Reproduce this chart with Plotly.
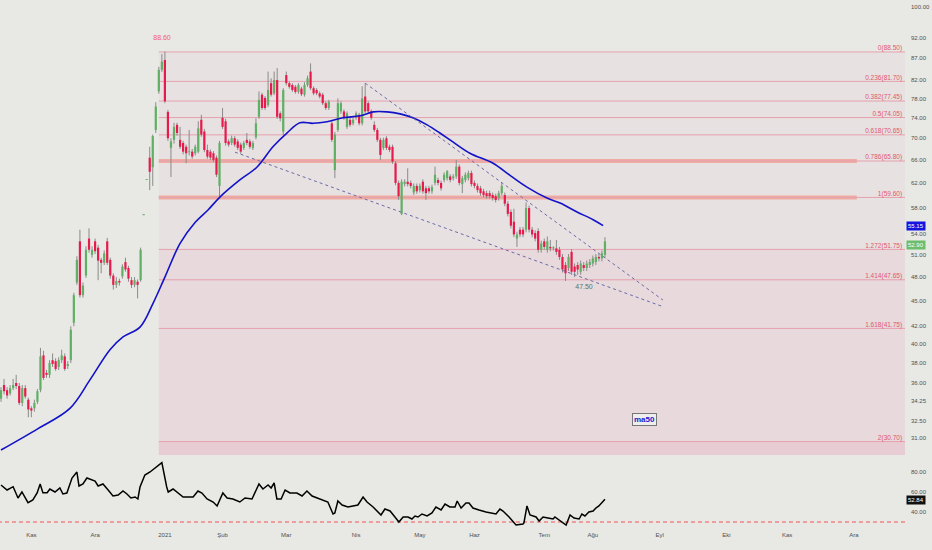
import plotly.graph_objects as go

# ---------------- data ----------------
month_ticks = [10, 31, 54, 73, 94, 117, 138, 156, 179, 195, 217, 239, 259, 281]
month_labels = ["Kas", "Ara", "2021", "Şub", "Mar", "Nis", "May", "Haz", "Tem", "Ağu", "Eyl", "Eki", "Kas", "Ara"]

price_ticks = [100, 92, 87, 82, 78, 74, 70, 66, 62, 58, 54, 51, 48, 45, 42, 40, 38, 36, 34.25, 32.5, 31]
rsi_ticks = [80, 60, 40]

opens = [
    34.5, 35.8, 35.3, 35.0, 35.5, 36.0, 35.7, 34.1, 35.5, 34.4,
    33.6, 33.6, 34.2, 35.3, 38.8, 37.0, 36.8, 38.3, 38.2, 37.6,
    38.3, 38.7, 37.7, 38.3, 42.4, 47.3, 52.9, 45.7, 48.2, 53.3,
    51.0, 52.9, 52.0, 50.3, 49.9, 52.9, 50.3, 48.2, 47.0, 47.5,
    48.1, 50.0, 49.2, 47.6, 47.0, 47.4, 47.6, 56.8, 62.5, 66.4,
    64.7, 71.6, 79.5, 84.3, 86.6, 75.2, 68.2, 69.7, 72.6, 69.7,
    69.1, 68.4, 67.4, 67.5, 67.2, 67.5, 73.6, 71.3, 67.8, 67.5,
    67.2, 66.4, 61.5, 74.0, 73.3, 69.4, 69.1, 70.0, 69.4, 68.8,
    68.2, 69.7, 69.4, 68.2, 70.2, 74.2, 78.8, 78.1, 76.6, 81.3,
    79.1, 82.0, 74.9, 71.3, 83.1, 81.3, 80.9, 80.5, 79.4, 80.1,
    78.8, 80.9, 83.9, 80.2, 79.8, 79.1, 78.8, 77.0, 76.0, 72.9,
    64.2, 71.6, 75.3, 75.3, 72.2, 73.6, 72.9, 74.0, 74.6, 72.9,
    78.4, 77.0, 75.3, 72.6, 71.6, 69.7, 68.2, 70.0, 68.4, 68.4,
    65.4, 62.0, 57.0, 61.8, 62.2, 62.0, 60.4, 61.5, 60.8, 62.2,
    61.1, 61.1, 60.6, 62.0, 62.5, 62.0, 62.5, 62.8, 63.1, 62.8,
    63.1, 64.8, 61.8, 62.5, 62.8, 63.7, 62.0, 61.5, 61.1, 60.6,
    60.3, 60.3, 60.0, 59.8, 59.5, 60.3, 60.0, 58.6, 57.3, 55.8,
    53.3, 54.6, 54.6, 54.6, 57.9, 54.6, 54.1, 54.4, 51.7, 52.9,
    51.7, 52.1, 51.9, 51.9, 51.7, 50.7, 49.6, 49.2, 51.4, 49.4,
    49.6, 48.7, 49.6, 49.2, 49.6, 49.8, 50.0, 50.7, 50.5, 51.0,
]
highs = [
    35.6, 36.4, 35.6, 35.8, 36.4, 36.8, 36.0, 35.8, 35.8, 34.6,
    33.8, 34.4, 35.4, 39.6, 39.3, 37.3, 38.3, 39.0, 38.5, 38.6,
    39.4, 39.0, 38.2, 42.0, 46.0, 50.8, 54.6, 47.3, 52.2, 54.8,
    52.2, 53.3, 52.4, 50.6, 51.6, 53.4, 50.6, 48.5, 48.0, 47.8,
    49.7, 50.6, 49.5, 48.0, 48.0, 47.7, 52.0, 56.9, 62.6, 68.4,
    70.7, 77.2, 85.0, 88.0, 88.6, 75.6, 70.0, 73.0, 73.0, 72.2,
    69.5, 68.8, 71.6, 68.0, 68.8, 73.3, 74.6, 71.8, 68.8, 67.9,
    67.6, 66.8, 69.5, 76.0, 73.8, 69.8, 70.5, 70.4, 69.8, 69.2,
    69.5, 71.0, 69.8, 69.5, 73.9, 79.5, 79.2, 78.5, 83.9, 82.4,
    83.9, 84.7, 75.3, 80.2, 83.9, 81.7, 81.3, 80.9, 81.3, 80.5,
    81.5, 83.0, 85.8, 80.6, 80.2, 79.5, 79.2, 77.4, 77.7, 73.5,
    71.2, 78.0, 77.4, 75.7, 75.3, 74.0, 74.0, 75.3, 75.0, 80.6,
    81.3, 77.4, 75.7, 73.3, 72.0, 70.1, 70.1, 70.4, 68.8, 68.8,
    65.8, 62.4, 62.6, 62.6, 64.5, 62.4, 61.9, 61.9, 61.9, 62.6,
    61.5, 61.5, 61.7, 64.8, 62.9, 62.4, 63.8, 64.2, 63.5, 63.5,
    66.0, 65.2, 63.2, 63.8, 64.1, 64.1, 62.4, 61.9, 61.5, 61.0,
    60.7, 60.7, 60.4, 60.2, 60.7, 62.0, 60.4, 59.0, 57.7, 57.8,
    54.3, 55.0, 55.0, 58.8, 58.3, 55.0, 54.5, 54.8, 53.0, 53.3,
    53.6, 53.1, 52.2, 53.1, 52.1, 51.1, 50.0, 51.1, 51.8, 49.8,
    50.0, 50.2, 50.0, 50.2, 50.4, 50.9, 51.1, 51.1, 51.6, 53.5,
]
lows = [
    34.2, 34.9, 34.5, 34.8, 35.3, 35.4, 33.9, 33.8, 34.5, 32.8,
    32.8, 33.3, 34.0, 35.1, 36.3, 36.5, 36.5, 37.6, 37.2, 37.3,
    38.0, 37.2, 37.4, 38.0, 42.0, 47.0, 45.4, 45.4, 47.9, 51.3,
    50.6, 51.1, 47.6, 48.5, 49.6, 49.6, 47.8, 46.4, 46.6, 46.9,
    47.8, 48.7, 47.4, 46.6, 46.7, 45.3, 47.4, 56.8, 62.5, 60.8,
    61.5, 71.0, 79.0, 83.8, 77.0, 69.5, 63.0, 69.0, 70.5, 68.0,
    67.0, 65.4, 66.8, 66.2, 66.8, 67.2, 70.3, 67.4, 66.2, 66.0,
    65.6, 63.0, 59.7, 71.8, 68.6, 68.4, 68.7, 68.4, 67.8, 67.1,
    67.8, 68.7, 68.0, 67.8, 69.8, 73.8, 75.6, 75.6, 76.2, 78.4,
    78.7, 73.8, 73.3, 70.6, 80.8, 80.1, 79.4, 79.0, 79.0, 78.5,
    78.4, 80.5, 79.8, 78.7, 78.7, 78.0, 76.6, 75.6, 75.6, 69.3,
    62.8, 71.2, 74.8, 73.6, 71.8, 72.2, 72.5, 73.6, 72.5, 72.5,
    74.9, 74.9, 73.6, 71.2, 69.3, 66.0, 67.8, 67.8, 67.4, 65.3,
    61.6, 59.2, 56.8, 61.4, 61.4, 61.1, 60.0, 60.2, 60.4, 60.2,
    59.2, 60.2, 60.2, 61.6, 61.6, 60.7, 62.1, 62.4, 62.1, 62.4,
    62.7, 61.6, 60.3, 62.1, 62.4, 61.4, 61.1, 60.4, 59.9, 59.6,
    59.4, 59.4, 59.1, 58.8, 59.1, 59.9, 58.2, 56.6, 54.8, 53.5,
    52.1, 53.5, 53.5, 54.2, 54.2, 53.5, 52.9, 51.3, 51.3, 51.7,
    51.3, 51.5, 51.6, 51.0, 50.3, 48.6, 47.5, 48.8, 48.3, 48.0,
    48.3, 48.3, 48.8, 48.8, 49.2, 49.4, 49.6, 50.1, 50.1, 50.6,
]
closes = [
    35.3, 35.2, 34.8, 35.5, 35.8, 35.7, 34.1, 35.5, 34.7, 33.5,
    33.4, 34.1, 35.2, 38.7, 36.5, 36.8, 38.0, 37.9, 37.4, 38.3,
    38.8, 37.4, 37.9, 41.6, 45.7, 50.3, 45.7, 46.9, 51.7, 51.7,
    51.7, 51.5, 50.2, 49.9, 51.2, 49.9, 48.2, 47.0, 47.5, 47.3,
    49.4, 49.0, 47.8, 47.0, 47.6, 47.0, 51.7, 56.9, 62.6, 63.9,
    70.4, 76.3, 84.3, 86.2, 77.4, 70.0, 69.4, 72.2, 71.0, 68.4,
    67.5, 67.2, 67.5, 66.6, 68.4, 71.9, 70.7, 67.8, 66.6, 66.4,
    66.0, 63.4, 69.1, 72.2, 69.1, 68.8, 70.0, 68.8, 68.2, 67.5,
    69.1, 69.1, 68.4, 69.1, 72.9, 77.7, 76.0, 76.0, 79.8, 78.8,
    82.0, 74.2, 73.9, 79.8, 81.3, 80.5, 79.8, 79.4, 80.9, 78.9,
    80.9, 82.4, 80.2, 79.1, 79.1, 78.4, 77.0, 76.0, 77.3, 69.7,
    70.7, 77.0, 77.0, 74.0, 74.9, 72.6, 73.6, 74.9, 72.9, 78.0,
    75.3, 75.3, 74.0, 71.6, 69.7, 66.9, 69.7, 68.2, 67.8, 65.7,
    62.0, 59.8, 62.2, 62.2, 61.8, 61.5, 61.5, 60.6, 61.5, 60.6,
    60.3, 60.6, 61.3, 63.4, 62.0, 61.1, 63.4, 64.0, 62.5, 63.1,
    64.8, 62.0, 62.8, 63.4, 63.7, 61.8, 61.5, 60.8, 60.3, 60.0,
    59.8, 59.8, 59.5, 59.2, 60.3, 61.5, 58.6, 57.0, 55.2, 53.9,
    53.9, 53.9, 53.9, 57.9, 54.6, 53.9, 53.3, 51.7, 52.6, 52.1,
    52.9, 51.9, 51.9, 51.4, 50.7, 49.0, 48.5, 50.7, 48.7, 48.7,
    49.0, 49.8, 49.2, 49.8, 50.0, 50.5, 50.7, 50.5, 51.2, 52.9,
]

ma_bar = [0, 12.2, 22.7, 29.3, 35.9, 40.2, 45.8, 50.1, 54, 59, 64, 68.2, 72.2, 78.7, 84.3, 89.6,
          94.2, 98.5, 102.8, 107.4, 112.7, 118.3, 122.6, 127.2, 131.5, 135.7, 140.4, 144.6, 148.9,
          154.5, 162.1, 167.7, 173.3, 179.9, 184.2, 189.8, 195.1, 198.4]
ma_val = [30.0, 31.8, 33.6, 36.3, 39.4, 40.8, 41.9, 44.7, 48.0, 52.6, 55.7, 57.6, 59.7, 62.5, 64.7, 68.4,
          71.0, 73.0, 72.9, 73.2, 74.0, 74.4, 75.2, 75.2, 74.8, 74.0, 72.6, 71.0, 69.3,
          67.2, 65.4, 63.3, 61.3, 59.5, 58.7, 57.3, 56.1, 55.2]

rsi_bar = [0, 2.0, 4.0, 5.6, 6.9, 8.9, 10.5, 11.9, 12.9, 13.8, 15.2, 16.1, 17.8, 19.4, 20.4, 21.7,
           23.4, 25.0, 25.7, 27.0, 28.3, 31.0, 32.0, 33.6, 35.3, 36.9, 38.6, 40.2, 41.5, 42.8,
           44.2, 45.1, 45.8, 47.4, 49.1, 51.4, 53.0, 54.6, 55.1, 56.7, 58.3, 60.0, 63.3, 64.9,
           66.2, 67.9, 69.9, 71.2, 73.1, 74.5, 76.4, 78.7, 80.4, 82.7, 85.0, 86.3, 88.0, 89.0,
           90.0, 90.9, 92.3, 93.6, 95.2, 97.5, 99.2, 100.8, 102.5, 105.1, 107.7, 109.4, 110.0,
           111.0, 112.4, 114.3, 116.0, 117.6, 119.3, 120.6, 122.6, 125.2, 126.5, 128.2, 129.8,
           131.1, 132.5, 134.1, 135.4, 136.4, 137.4, 138.7, 140.4, 142.0, 143.3, 145.0, 146.3,
           147.9, 149.6, 150.3, 151.6, 153.2, 154.2, 155.5, 157.5, 159.8, 163.1, 164.4, 165.4,
           167.4, 169.7, 172.0, 172.3, 173.3, 174.3, 176.3, 177.3, 178.6, 180.2, 181.9, 182.5,
           183.9, 185.2, 186.2, 187.5, 188.8, 190.5, 191.4, 192.4, 193.7, 195.1, 196.0, 197.0, 199.0]
rsi_val = [67, 62, 65.3, 54, 60, 49.3, 52, 59, 68, 59.3, 59.3, 63, 60, 64, 58, 59,
           74, 80, 66, 68, 74, 71, 66, 68, 62, 56, 57, 61, 58, 54,
           55, 53, 65, 77, 80, 86, 89.3, 65, 60, 63, 59, 55, 55, 61,
           59, 53, 50, 46, 59, 54, 53, 50, 54, 53, 68, 63, 67, 64,
           69, 53, 53, 62, 59, 59, 56, 61, 56, 53, 50, 38, 39,
           51, 47, 45, 46, 47, 55, 50, 45, 37, 43, 41, 35,
           30, 35, 35, 33, 36, 35, 38, 36, 39, 45, 42, 48,
           45, 45, 51, 44, 49, 49, 44, 42, 40, 38, 43, 41,
           35, 27, 28, 29, 46, 37, 35, 31, 35, 34, 33, 35,
           32, 30, 27, 37, 34, 33, 38, 36, 40, 41, 44, 46, 52.84]

fib_ratio = ["0", "0.236", "0.382", "0.5", "0.618", "0.786", "1", "1.272", "1.414", "1.618", "2"]
fib_price = [88.50, 81.70, 77.45, 74.05, 70.65, 65.80, 59.60, 51.75, 47.65, 41.75, 30.70]
band_price = [65.80, 59.60]

upper_trend_bar = [120, 218.1]
upper_trend_price = [81.3, 45.1]
lower_trend_bar = [77.1, 218.1]
lower_trend_price = [67.4, 44.3]

rsi_level = 30
ath_label = "88.60"
low_label = "47.50"
ma_last = 55.15
close_last = 52.90
rsi_last = 52.84

# ---------------- layout constants ----------------
BG = "#e8e8e4"
FONT = "Liberation Sans"
X_RANGE = [-0.33, 297.86]
Y_RANGE = [1.47129, 2.00826]
PRICE_DOM = [0.141509, 1.0]
RSI_DOM = [0.0, 0.135849]
FIB_X0 = 52.0
FIB_X1 = 300.0
BAND_X1 = 282.0
LABEL_X = 296.9
UP = "#5fb064"
DN = "#e8194b"

bars = list(range(len(opens)))
fig = go.Figure()

# fib shaded zones
zones = [(fib_price[0], fib_price[7], "#e7e1e1"),
         (fib_price[7], fib_price[10], "#e7d9dc"),
         (fib_price[10], 20.0, "#e8ccd3")]
for top, bot, col in zones:
    fig.add_trace(go.Scatter(x=[FIB_X0, FIB_X1, FIB_X1, FIB_X0, FIB_X0], y=[top, top, bot, bot, top],
                             fill="toself", fillcolor=col, mode="lines", line=dict(width=0),
                             hoverinfo="skip", xaxis="x", yaxis="y"))

# salmon horizontal bands
for p in band_price:
    fig.add_trace(go.Scatter(x=[FIB_X0, BAND_X1], y=[p, p], mode="lines",
                             line=dict(color="#efaca2", width=4), hoverinfo="skip", xaxis="x", yaxis="y"))

# fib lines
for p in fib_price:
    fig.add_trace(go.Scatter(x=[FIB_X0, FIB_X1], y=[p, p], mode="lines",
                             line=dict(color="#e6a0ae", width=1), hoverinfo="skip", xaxis="x", yaxis="y"))

fig.add_trace(go.Scatter(x=[LABEL_X] * len(fib_price), y=fib_price, mode="text",
                         text=[f"{r}({p:.2f})" for r, p in zip(fib_ratio, fib_price)],
                         textposition="top left", textfont=dict(family=FONT, size=6.5, color="#e2566f"),
                         hoverinfo="skip", xaxis="x", yaxis="y"))

# wicks
wx, wy = [], []
for i, (h, l) in enumerate(zip(highs, lows)):
    wx += [i, i, None]
    wy += [l, h, None]
fig.add_trace(go.Scatter(x=wx, y=wy, mode="lines", line=dict(color="#8a8a8a", width=1),
                         hoverinfo="skip", xaxis="x", yaxis="y"))

# candle bodies (thick segments from open to close)
for up, col in [(True, UP), (False, DN)]:
    bx, by = [], []
    for i, (o, c) in enumerate(zip(opens, closes)):
        if (c >= o) == up:
            lo, hi = min(o, c), max(o, c)
            if hi - lo < 0.15:
                hi = lo + 0.15
            bx += [i, i, None]
            by += [lo, hi, None]
    fig.add_trace(go.Scatter(x=bx, y=by, mode="lines", line=dict(color=col, width=2.2),
                             hoverinfo="skip", xaxis="x", yaxis="y"))

# MA50
fig.add_trace(go.Scatter(x=ma_bar, y=ma_val, mode="lines", line=dict(color="#1212c8", width=1.6, shape="spline"),
                         hoverinfo="skip", xaxis="x", yaxis="y"))

# trend lines
for bx, py in [(upper_trend_bar, upper_trend_price), (lower_trend_bar, lower_trend_price)]:
    fig.add_trace(go.Scatter(x=bx, y=py, mode="lines", line=dict(color="#6b6ba8", width=1, dash="3px,3px"),
                             hoverinfo="skip", xaxis="x", yaxis="y"))

# text labels
fig.add_trace(go.Scatter(x=[53.05], y=[91.9], mode="text", text=[ath_label],
                         textfont=dict(family=FONT, size=7, color="#ef5f6e"), hoverinfo="skip",
                         xaxis="x", yaxis="y"))
fig.add_trace(go.Scatter(x=[192.1], y=[46.7], mode="text", text=[low_label],
                         textfont=dict(family=FONT, size=7, color="#587664"), hoverinfo="skip",
                         xaxis="x", yaxis="y"))

# RSI
fig.add_trace(go.Scatter(x=[-1, 300], y=[rsi_level, rsi_level], mode="lines",
                         line=dict(color="#f25555", width=1, dash="4px,3px"), hoverinfo="skip",
                         xaxis="x", yaxis="y2"))
fig.add_trace(go.Scatter(x=rsi_bar, y=rsi_val, mode="lines", line=dict(color="#000000", width=1.5),
                         hoverinfo="skip", xaxis="x", yaxis="y2"))

tickfont = dict(family=FONT, size=6, color="#505050")
fig.update_layout(
    width=932, height=550,
    margin=dict(l=0, r=27, t=0, b=20),
    paper_bgcolor=BG, plot_bgcolor=BG,
    showlegend=False, hovermode=False,
    xaxis=dict(domain=[0, 1], range=X_RANGE, anchor="y2", tickvals=month_ticks, ticktext=month_labels,
               showgrid=False, zeroline=False, showline=False, ticks="", tickfont=tickfont),
    yaxis=dict(domain=PRICE_DOM, type="log", range=Y_RANGE, side="right", anchor="x",
               tickvals=price_ticks, ticktext=[f"{v:.2f}" for v in price_ticks],
               showgrid=False, zeroline=False, showline=False, ticks="", tickfont=tickfont,
               ticklabelstandoff=5),
    yaxis2=dict(domain=RSI_DOM, range=[22, 94], side="right", anchor="x",
                tickvals=rsi_ticks, ticktext=[f"{v:.2f}" for v in rsi_ticks],
                showgrid=False, zeroline=False, showline=False, ticks="", tickfont=tickfont,
                ticklabelstandoff=5),
)


def box(text, ypix, bg, fg):
    fig.add_annotation(xref="paper", yref="paper", x=1.0, y=1 - ypix / 530, xanchor="left", yanchor="middle",
                       xshift=1, text=text, showarrow=False, bgcolor=bg, borderpad=1,
                       font=dict(family=FONT, size=6, color=fg))


box(f"{ma_last:.2f}", 226.5, "#1414e0", "#ffffff")
box(f"{close_last:.2f}", 245, "#6cbd6e", "#ffffff")
box(f"{rsi_last:.2f}", 500, "#111111", "#ffffff")

fig.add_annotation(xref="paper", yref="paper", x=644 / 905, y=1 - 419 / 530, xanchor="center", yanchor="middle",
                   text="<b>ma50</b>", showarrow=False, bgcolor="#eeeeee", bordercolor="#777777",
                   borderwidth=1, borderpad=1, font=dict(family=FONT, size=8, color="#1a1acc"))

fig.write_html("out.html", config={"displayModeBar": False, "staticPlot": True},
               post_script="document.body.style.margin='0';document.body.style.overflow='hidden';"
                           "document.body.style.background='" + BG + "';")
